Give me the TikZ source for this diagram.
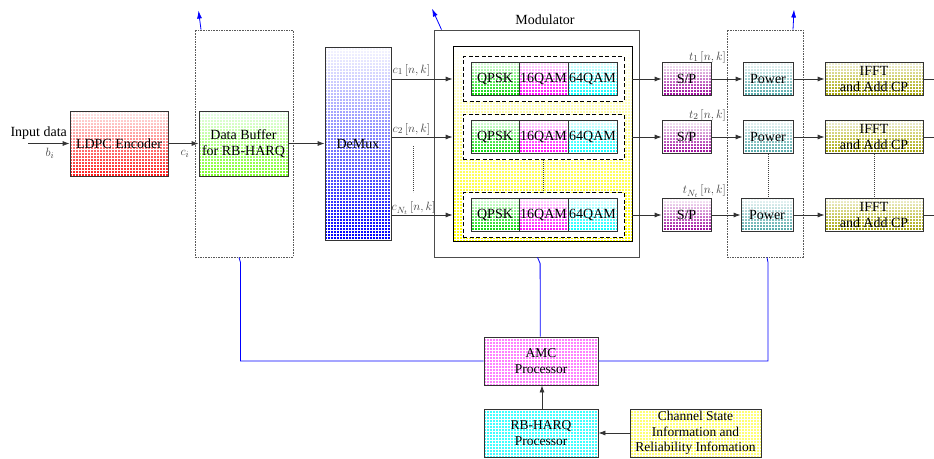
\documentclass[tikz,border=0pt]{standalone}
\usepackage{fontspec}
\setmainfont{Liberation Serif}
\usetikzlibrary{arrows.meta,patterns}

\begin{document}
\begin{tikzpicture}[x=1pt,y=-1pt,
  font=\fontsize{14}{16}\selectfont,
  box/.style={draw=black!80, line width=0.8pt, inner sep=0pt, align=center, text=black},
  tb/.style 2 args={preaction={top color=#1, bottom color=#2},
    preaction={pattern=grid, pattern color=white, fill opacity=0.22}},
  dotbox/.style={draw=black!65, line width=0.9pt, dash pattern=on 1.6pt off 1pt, inner sep=0pt},
  rowbox/.style={draw=black, line width=0.8pt, dash pattern=on 4pt off 2.5pt, fill=white, inner sep=0pt,
    minimum width=161pt, minimum height=45pt},
  cell/.style={box, minimum width=#1, minimum height=33pt},
  arr/.style={draw=black!80, line width=0.8pt, -{Latex[length=7pt,width=5pt]}},
  plain/.style={draw=black!80, line width=0.8pt},
  ctrl/.style={draw=blue, line width=0.8pt},
  ctrlarr/.style={draw=blue, line width=0.8pt, -{Latex[length=8pt,width=5pt]}},
  vdots/.style={draw=black!75, line width=0.8pt, dash pattern=on 1.2pt off 0.8pt},
  lbl/.style={text=black!75, inner sep=0pt, font=\fontsize{13}{15}\selectfont},
]
\useasboundingbox (0,0) rectangle (934,458);

% ---------- input side ----------
\coordinate (in) at (28,143.5);
\node[box, tb={red!8}{red!90}, minimum width=98pt, minimum height=65pt] (ldpc) at (119,143.5) {LDPC Encoder};
\node[inner sep=0pt] (inlbl) at (38.7,133) {Input data};
\node[lbl] (blbl) at (50,153) {$b_i$};
\draw[arr] (in) -- (ldpc.west);

\node[dotbox, minimum width=98pt, minimum height=227pt] (dot1) at (244,143.5) {};
\node[box, tb={green!8!white}{green!60!yellow!85}, minimum width=89pt, minimum height=65pt] (buf) at (243.5,143.5) {Data Buffer\\for RB-HARQ};
\node[lbl] (clbl) at (185,154) {$c_i$};
\draw[arr] (ldpc.east) -- (buf.west);

\node[box, tb={blue!3}{blue}, minimum width=66pt, minimum height=193pt] (demux) at (358,143.5) {DeMux};
\draw[arr] (buf.east) -- (demux.west);

% ---------- modulator ----------
\node[box, draw=black!70, fill=white, minimum width=205pt, minimum height=227pt] (modout) at (536.5,143.5) {};
\node[inner sep=0pt] (modlbl) at (545,20) {Modulator};
\node[box, draw=black, tb={white}{yellow}, minimum width=179pt, minimum height=195pt] (modin) at (542.5,143.5) {};

\foreach \i/\y in {1/79,2/137,N/215}{
  \node[rowbox] (row\i) at (543.5,\y) {};
  \node[cell=48pt, tb={green!12}{green!85!black}] (q\i) at (495,\y) {QPSK};
  \node[cell=49pt, tb={magenta!12}{magenta}] (m\i) at (543.5,\y) {16QAM};
  \node[cell=49pt, tb={cyan!12}{cyan}] (s\i) at (592.5,\y) {64QAM};
  \draw[arr] (demux.east |- row\i) -- (modin.west |- row\i);
}
\draw[vdots] (row2.south) -- (rowN.north);

\node[lbl, anchor=west] (c1lbl) at (392.5,70) {$c_1\,[n,k]$};
\node[lbl, anchor=west] (c2lbl) at (392.5,129) {$c_2\,[n,k]$};
\node[lbl, anchor=west] (cNlbl) at (391.5,208) {$c_{N_t}\,[n,k]$};
\coordinate (cd1) at (413,146);
\coordinate (cd2) at (413,192);
\draw[vdots] (cd1) -- (cd2);

% ---------- serial/parallel, power, IFFT ----------
\node[dotbox, minimum width=76pt, minimum height=227pt] (dot2) at (765,143.5) {};

\foreach \i/\y/\pc/\pw in {1/79/768/50pt,2/137/768/50pt,N/215/767/52pt}{
  \node[box, tb={violet!4!white}{violet!50!magenta!80!black}, minimum width=49pt, minimum height=33pt] (sp\i) at (686.5,\y) {S/P};
  \node[box, tb={teal!6!white}{teal!70!white}, minimum width=\pw, minimum height=33pt] (p\i) at (\pc,\y) {Power};
  \node[box, tb={olive!10!white}{olive!75!white}, minimum width=98pt, minimum height=33pt] (f\i) at (874,\y) {IFFT\\and Add CP};
  \coordinate (o\i) at (934,\y);
  \draw[arr] (modin.east |- sp\i) -- (sp\i.west);
  \draw[arr] (sp\i.east) -- (p\i.west |- sp\i);
  \draw[arr] (p\i.east) -- (f\i.west);
  \draw[plain] (f\i.east) -- (o\i);
}
\draw[vdots] (p2.south) -- (p2.south |- pN.north);
\draw[vdots] (f2.south) -- (fN.north);

\node[lbl, anchor=east] (t1lbl) at (726,57) {$t_1\,[n,k]$};
\node[lbl, anchor=east] (t2lbl) at (726,115) {$t_2\,[n,k]$};
\node[lbl, anchor=east] (tNlbl) at (726,191) {$t_{N_t}\,[n,k]$};

% ---------- control processors ----------
\node[box, tb={magenta!50!white}{magenta!50!white}, font=\fontsize{13.5}{16}\selectfont, minimum width=114pt, minimum height=48pt] (amc) at (541,361) {AMC\\Processor};
\node[box, tb={cyan!75!white}{cyan!75!white}, font=\fontsize{13.5}{16}\selectfont, minimum width=114pt, minimum height=48pt] (harq) at (541,433) {RB-HARQ\\Processor};
\node[box, tb={yellow!55!white}{yellow!55!white}, font=\fontsize{13.5}{15.5}\selectfont, minimum width=131pt, minimum height=48pt] (csi) at (695.5,433) {Channel State\\Information and\\Reliability Infomation};
\draw[arr] (harq.north -| 542,0) -- (amc.south -| 542,0);
\draw[arr] (csi.west) -- (harq.east |- csi.west);

% blue control paths
\draw[ctrl] ([xshift=-5pt]dot1.south) -- ++(1.5,5) |- (amc.west);
\draw[ctrl] ([xshift=1pt]modout.south) -- ++(2.6,6) -- (amc.north -| 540.3,0);
\draw[ctrl] ([xshift=2pt]dot2.south) -- ++(1,5) |- (amc.east);
\draw[ctrlarr] ([xshift=-43pt]dot1.north) -- ++(-2.5,-19);
\draw[ctrlarr] ([xshift=-95pt]modout.north) -- ++(-9.5,-21);
\draw[ctrlarr] ([xshift=28pt]dot2.north) -- ++(1,-20);
\end{tikzpicture}
\end{document}
